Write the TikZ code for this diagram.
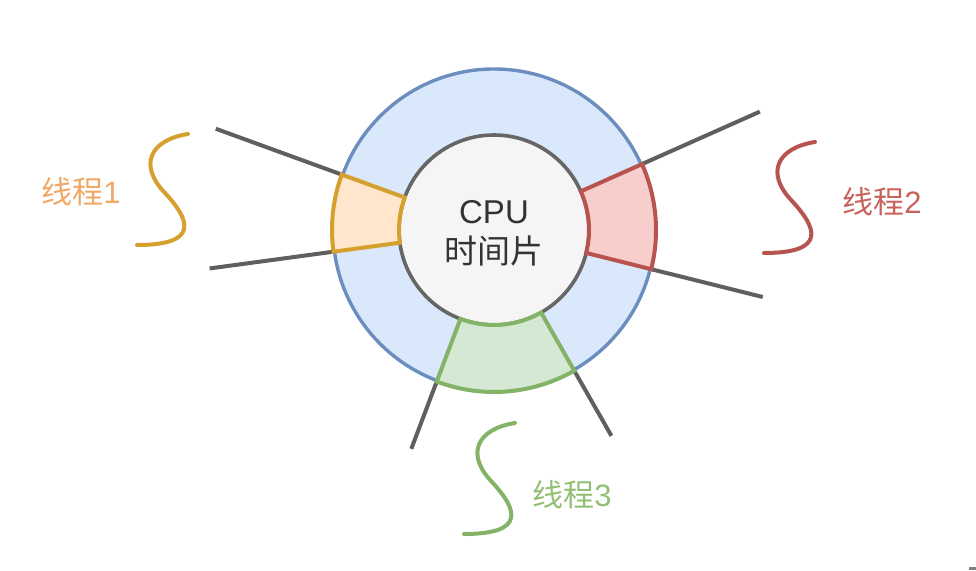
\documentclass[tikz,border=0pt]{standalone}
\usepackage{fontspec}
\setmainfont{Liberation Sans}
\newfontfamily\cjk{Noto Sans CJK SC}
\definecolor{ringfill}{HTML}{DAE8FC}
\definecolor{ringdraw}{HTML}{6C8EBF}
\definecolor{corefill}{HTML}{F5F5F5}
\definecolor{coredraw}{HTML}{666666}
\definecolor{orfill}{HTML}{FFE6CC}
\definecolor{ordraw}{HTML}{D6A02E}
\definecolor{ortext}{HTML}{EFA865}
\definecolor{rdfill}{HTML}{F8CECC}
\definecolor{rddraw}{HTML}{B85450}
\definecolor{rdtext}{HTML}{C8625C}
\definecolor{gnfill}{HTML}{D5E8D4}
\definecolor{gndraw}{HTML}{82B366}
\definecolor{gntext}{HTML}{93BF74}
\definecolor{spoke}{HTML}{5F5F5F}
\tikzset{
  ring/.style={fill=ringfill, draw=ringdraw, line width=3.4pt},
  core/.style={fill=corefill, draw=coredraw, line width=3.6pt},
  slice/.style={line width=4pt, line join=miter},
  spokeline/.style={draw=spoke, line width=4pt},
  thread/.style={line width=4pt, line cap=round},
  lbl/.style={font=\fontsize{31}{36}\selectfont, inner sep=0pt},
  squiggle/.pic={\draw[pic actions] (0,0) .. controls (-38,-6) and (-50,-31) .. (-23,-59) .. controls (2,-86) and (12,-111) .. (-51,-111);}
}
\begin{document}
\begin{tikzpicture}[x=1pt,y=1pt]
\useasboundingbox (0,0) rectangle (976,570);
\coordinate (C) at (494,340);
\begin{scope}[shift={(C)}]
  % spokes
  \coordinate (o1a) at (160:162); \coordinate (o1b) at (160:296);
  \coordinate (o2a) at (187.7:162); \coordinate (o2b) at (187.7:287);
  \coordinate (r1a) at (24:162); \coordinate (r1b) at (24:291);
  \coordinate (r2a) at (-14:162); \coordinate (r2b) at (-14:277);
  \coordinate (g1a) at (-110.7:162); \coordinate (g1b) at (-110.7:234);
  \coordinate (g2a) at (-60.3:162); \coordinate (g2b) at (-60.3:237);
  \draw[spokeline] (o1a) -- (o1b);
  \draw[spokeline] (o2a) -- (o2b);
  \draw[spokeline] (r1a) -- (r1b);
  \draw[spokeline] (r2a) -- (r2b);
  \draw[spokeline] (g1a) -- (g1b);
  \draw[spokeline] (g2a) -- (g2b);
  % ring and core
  \draw[ring] (0,0) circle (161);
  \draw[core] (0,0) circle (95);
  % slices
  \draw[slice, fill=orfill, draw=ordraw] (160:162) arc (160:187.7:162) -- (187.7:95) arc (187.7:160:95) -- cycle;
  \draw[slice, fill=rdfill, draw=rddraw] (-14:162) arc (-14:24:162) -- (24:95) arc (24:-14:95) -- cycle;
  \draw[slice, fill=gnfill, draw=gndraw] (-110.7:162) arc (-110.7:-60.3:162) -- (-60.3:95) arc (-60.3:-110.7:95) -- cycle;
\end{scope}
\node[lbl, align=center, text=black!80, font=\fontsize{33}{40}\selectfont] (cpu) at (494,337) {CPU\\{\cjk 时间片}};
% threads
\pic[draw=ordraw, thread] (s1) at (188,436) {squiggle};
\pic[draw=rddraw, thread] (s2) at (815,428) {squiggle};
\pic[draw=gndraw, thread] (s3) at (515,147) {squiggle};
\node[lbl, text=ortext] (t1) at (81,378) {{\cjk 线程}1};
\node[lbl, text=rdtext] (t2) at (882,368) {{\cjk 线程}2};
\node[lbl, text=gntext] (t3) at (572,75) {{\cjk 线程}3};
\fill[spoke!80] (969,0) rectangle (976,3);
\end{tikzpicture}
\end{document}
